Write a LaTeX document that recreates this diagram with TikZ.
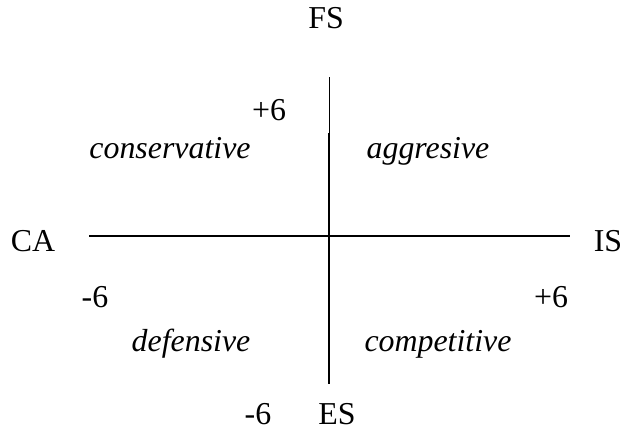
\documentclass[tikz,border=0pt]{standalone}
\usepackage{fontspec}
\setmainfont{Liberation Serif}
\usepackage{tikz}
\usetikzlibrary{positioning}

\begin{document}
\begin{tikzpicture}[
        x=1bp, y=-1bp,
        every node/.style={inner sep=0pt, anchor=base, font=\fontsize{32}{36}\selectfont},
        quad/.style={font=\fontsize{32}{36}\selectfont\itshape}
      ]
      \useasboundingbox (0,0) rectangle (640,432);
      % axes
      \coordinate (top) at (329,77);
      \coordinate (mid) at (329,133);
      \coordinate (bot) at (329,384);
      \coordinate (left) at (89,236);
      \coordinate (right) at (570,236);
      \draw[line width=0.8pt] (top) -- (mid);
      \draw[line width=1.6pt] (mid) -- (bot);
      \draw[line width=1.6pt] (left) -- (right);
      % axis labels
      \node (fs) at (326,28) {FS};
      \node (es) at (337,424) {ES};
      \node (ca) at (33,251) {CA};
      \node (is) at (608,251) {IS};
      % scale marks
      \node (fsmax) at (269,120) {+6};
      \node (esmin) at (258,424) {-6};
      \node (camin) at (95,307) {-6};
      \node (ismax) at (551,307) {+6};
      % quadrants
      \node[quad] (cons) at (170,158) {conservative};
      \node[quad] (aggr) at (428,158) {aggresive};
      \node[quad] (def) at (191,351) {defensive};
      \node[quad] (comp) at (438,351) {competitive};
    \end{tikzpicture}
\end{document}
